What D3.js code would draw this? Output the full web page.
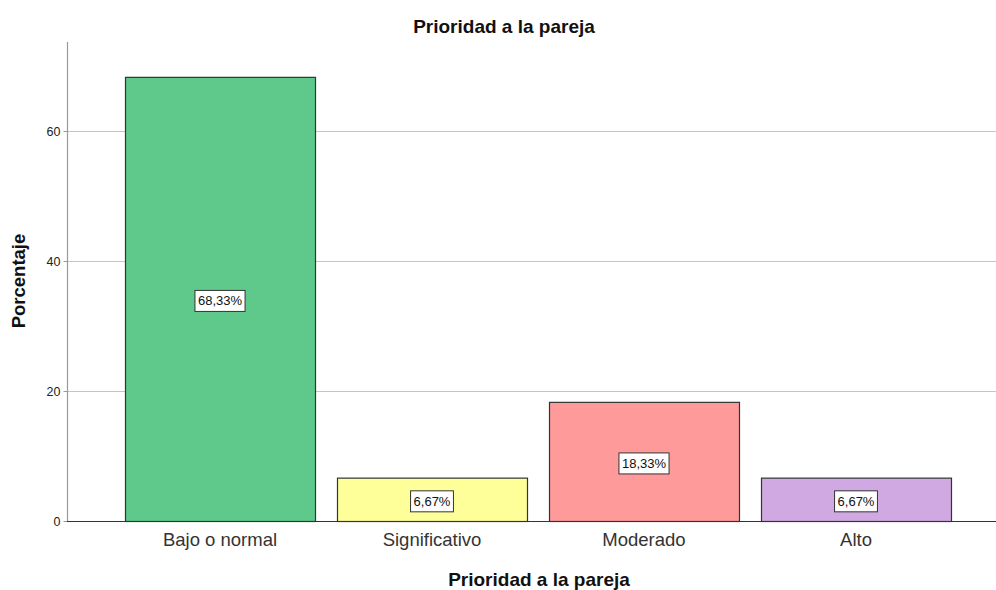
<!DOCTYPE html>
<html>
<head>
<meta charset="utf-8">
<script src="https://cdn.jsdelivr.net/npm/d3@7"></script>
<style>
  body { margin: 0; background: #fff; }
  text { font-family: Arial, "Liberation Sans", sans-serif; }
</style>
</head>
<body>
<script>
// datos
var categories = ["Bajo o normal", "Significativo", "Moderado", "Alto"];
var values = [68.33, 6.67, 18.33, 6.67];
var colors = ["#5ec98a", "#ffff9a", "#fe9a99", "#d0a8e2"];
var yTicks = [0, 20, 40, 60];

var width = 996, height = 590;
var svg = d3.select("body").append("svg").attr("width", width).attr("height", height);

var x = d3.scaleBand().domain(categories).range([114, 962])
  .paddingInner(22 / 212).paddingOuter(11 / 212);
var y = d3.scaleLinear().domain([0, 60]).range([521, 131]);

// lineas de rejilla
svg.append("g").selectAll("line").data(yTicks.filter(d => d > 0)).enter().append("line")
  .attr("x1", 67).attr("x2", 996)
  .attr("y1", d => y(d) + 0.5).attr("y2", d => y(d) + 0.5)
  .attr("stroke", "#c4c4c4").attr("stroke-width", 1);

// eje y
var yAxis = svg.append("g").attr("transform", "translate(67.5,0)")
  .call(d3.axisLeft(y).tickValues(yTicks).tickSize(4).tickPadding(3));
yAxis.select(".domain").remove();
yAxis.selectAll(".tick line").attr("stroke", "#999");
yAxis.selectAll(".tick text").attr("font-size", 12.5).attr("fill", "#222");
svg.append("line").attr("x1", 67.5).attr("x2", 67.5).attr("y1", 42).attr("y2", 521)
  .attr("stroke", "#999").attr("stroke-width", 1.2);

// barras
var bars = svg.append("g").selectAll("g").data(categories).enter().append("g");
bars.append("rect")
  .attr("x", d => x(d) + 0.5)
  .attr("y", (d, i) => y(values[i]) + 0.5)
  .attr("width", x.bandwidth())
  .attr("height", (d, i) => y(0) - y(values[i]))
  .attr("fill", (d, i) => colors[i])
  .attr("stroke", "#333").attr("stroke-width", 1.2);

// linea base
svg.append("line").attr("x1", 67).attr("x2", 996).attr("y1", 521.5).attr("y2", 521.5)
  .attr("stroke", "#333").attr("stroke-width", 1.2);

// etiquetas
bars.each(function (d, i) {
  var g = d3.select(this);
  var cx = x(d) + x.bandwidth() / 2;
  var cy = (y(values[i]) + y(0)) / 2 + 2;
  var label = values[i].toFixed(2).replace(".", ",") + "%";
  var t = g.append("text").attr("x", cx).attr("y", cy + 4.5)
    .attr("text-anchor", "middle").attr("font-size", 13).attr("fill", "#111").text(label);
  var w = t.node().getComputedTextLength() + 6;
  g.insert("rect", "text").attr("x", cx - w / 2).attr("y", cy - 10.5)
    .attr("width", w).attr("height", 21)
    .attr("fill", "#fff").attr("stroke", "#333").attr("stroke-width", 1);
});

// eje x categorias
svg.append("g").selectAll("text").data(categories).enter().append("text")
  .attr("x", d => x(d) + x.bandwidth() / 2).attr("y", 545.5)
  .attr("text-anchor", "middle").attr("font-size", 18.5).attr("fill", "#333")
  .text(d => d);

// titulos
svg.append("text").attr("x", 504).attr("y", 33).attr("text-anchor", "middle")
  .attr("font-size", 19).attr("font-weight", "bold").attr("fill", "#111")
  .text("Prioridad a la pareja");
svg.append("text").attr("x", 539).attr("y", 585.5).attr("text-anchor", "middle")
  .attr("font-size", 19).attr("font-weight", "bold").attr("fill", "#111")
  .text("Prioridad a la pareja");
svg.append("text").attr("transform", "translate(25,281) rotate(-90)")
  .attr("text-anchor", "middle").attr("font-size", 18.5).attr("font-weight", "bold")
  .attr("fill", "#111").text("Porcentaje");
</script>
</body>
</html>
